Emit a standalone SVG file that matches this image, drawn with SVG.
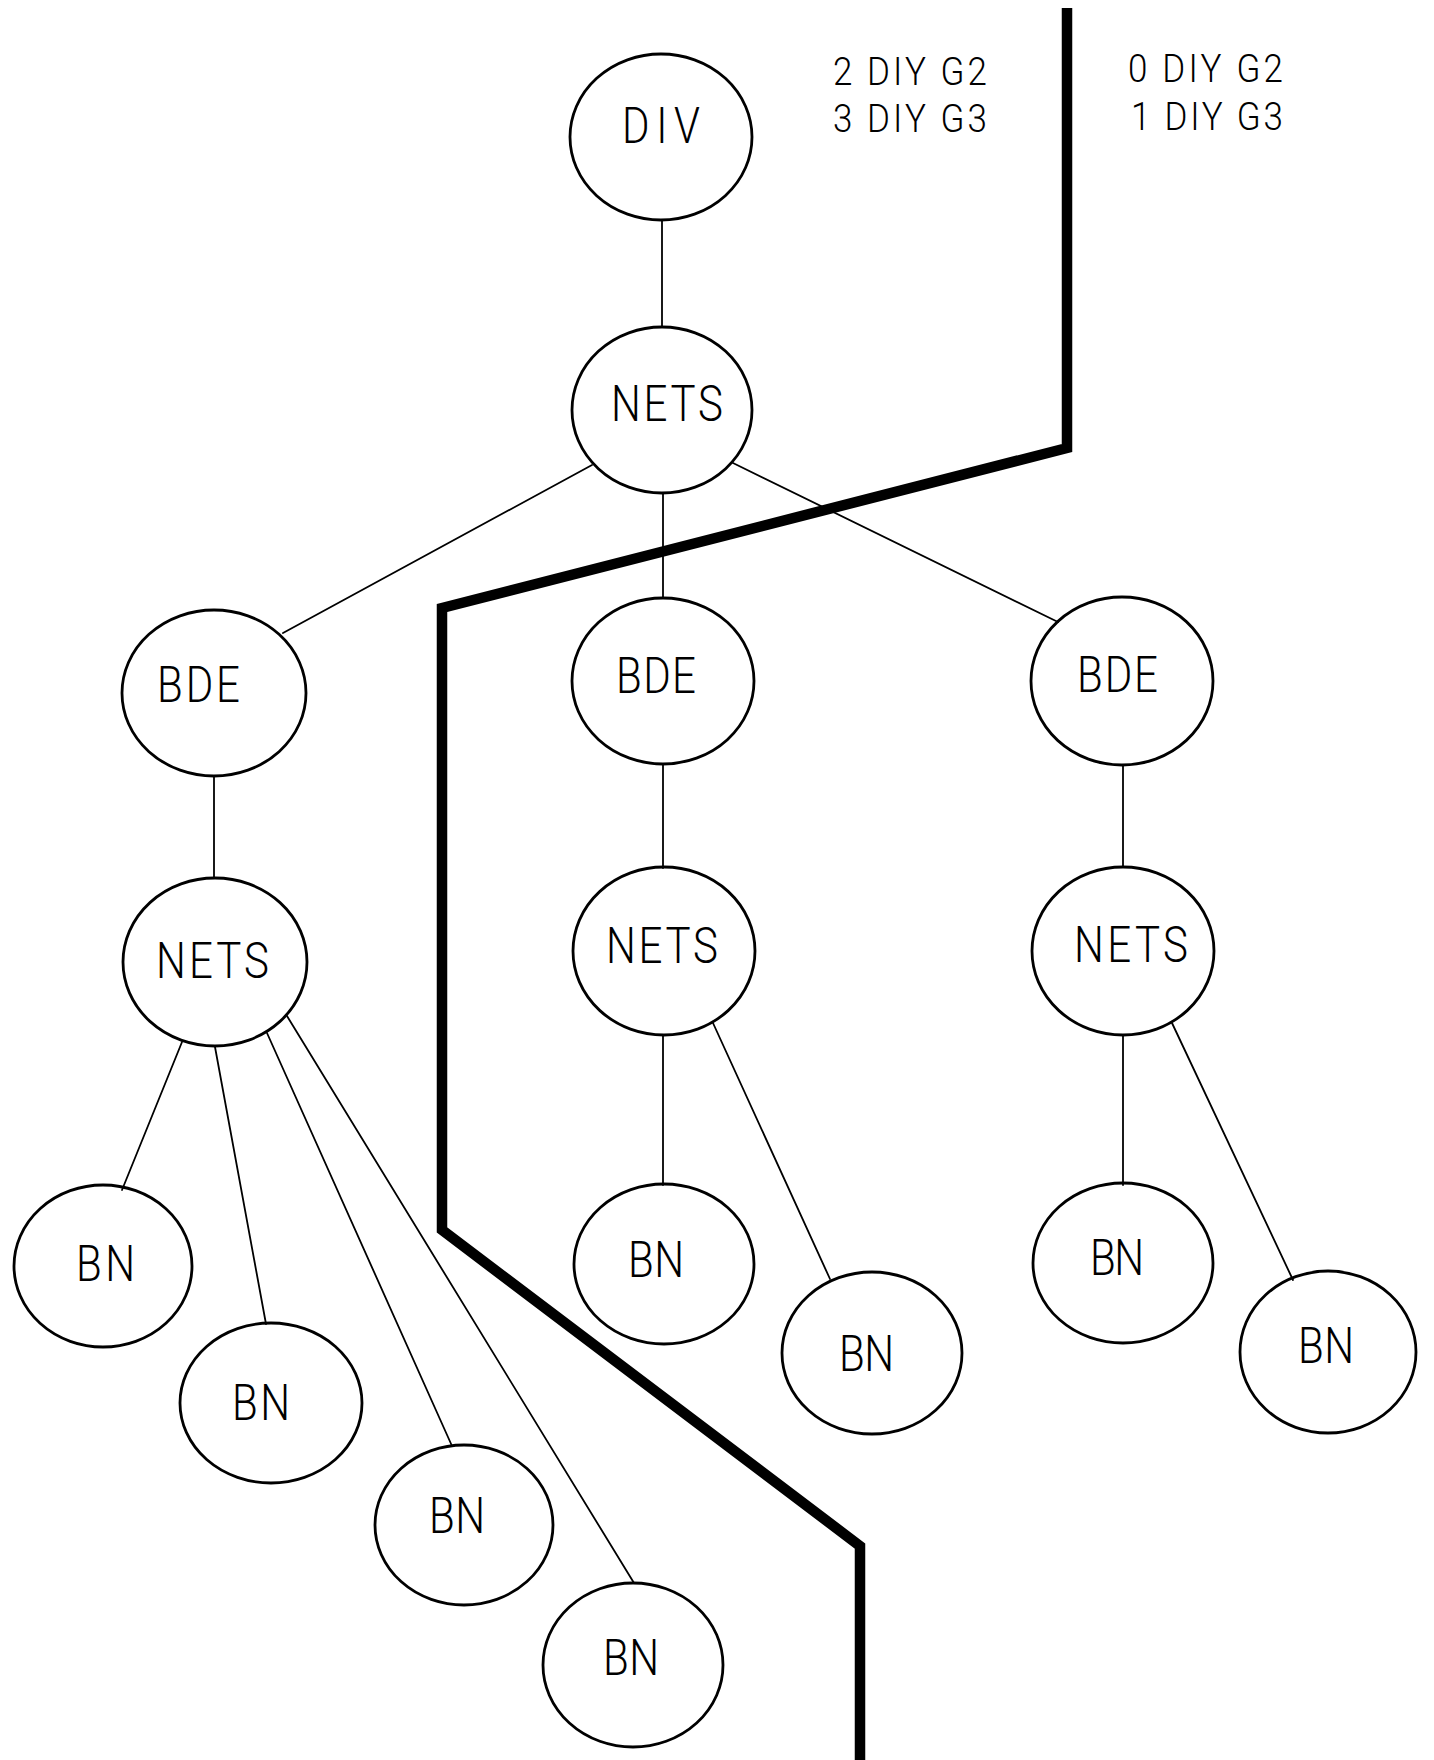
<svg xmlns="http://www.w3.org/2000/svg" width="1434" height="1760" viewBox="0 0 1434 1760">
  <style>
    .node ellipse { fill: none; stroke: #000; stroke-width: 2.8; }
    .node text { font-family: Roboto, "Liberation Sans", sans-serif; font-weight: 300; font-size: 42px; fill: #000; }
    .note { font-family: Roboto, "Liberation Sans", sans-serif; font-weight: 300; font-size: 35px; fill: #000; }
    #connectors line { stroke: #000; stroke-width: 1.8; stroke-linecap: round; }
    .boundary { fill: none; stroke: #000; stroke-width: 10.5; stroke-linejoin: miter; }
  </style>
  <rect width="1434" height="1760" fill="#fff"/>

  <!-- tree edges -->
  <g id="connectors">
    <line x1="662" y1="220" x2="662" y2="327"/>
    <line x1="592" y1="465" x2="283" y2="633"/>
    <line x1="663" y1="493" x2="663" y2="598"/>
    <line x1="733" y1="463" x2="1058" y2="622"/>
    <line x1="214" y1="777" x2="214" y2="878"/>
    <line x1="663" y1="765" x2="663" y2="868"/>
    <line x1="1123" y1="765" x2="1123" y2="867"/>
    <line x1="182" y1="1042" x2="122" y2="1190"/>
    <line x1="215" y1="1047" x2="266" y2="1324"/>
    <line x1="267" y1="1033" x2="452" y2="1446"/>
    <line x1="287" y1="1016" x2="634" y2="1583"/>
    <line x1="663" y1="1035" x2="663" y2="1185"/>
    <line x1="713" y1="1023" x2="830" y2="1279"/>
    <line x1="1123" y1="1035" x2="1123" y2="1185"/>
    <line x1="1172" y1="1023" x2="1293" y2="1280"/>
  </g>

  <!-- heavy dividing line -->
  <polyline class="boundary" points="1067,8 1067,448 442,608 442,1230 860,1546 860,1760"/>

  <!-- counts on each side of the divide -->
  <g id="counts-left">
    <text class="note" transform="translate(833,85) scale(1,1.12)" textLength="154" lengthAdjust="spacing">2 DIY G2</text>
    <text class="note" transform="translate(833,132) scale(1,1.12)" textLength="154" lengthAdjust="spacing">3 DIY G3</text>
  </g>
  <g id="counts-right">
    <text class="note" transform="translate(1128,82) scale(1,1.12)" textLength="155" lengthAdjust="spacing">0 DIY G2</text>
    <text class="note" transform="translate(1131,130) scale(1,1.12)" textLength="152" lengthAdjust="spacing">1 DIY G3</text>
  </g>

  <!-- nodes -->
  <g id="div" class="node">
    <ellipse cx="661" cy="137" rx="91" ry="83"/>
    <text transform="translate(622,143) scale(1,1.21)" textLength="78" lengthAdjust="spacing">DIV</text>
  </g>
  <g id="nets-top" class="node">
    <ellipse cx="662" cy="410" rx="90" ry="83"/>
    <text transform="translate(611,421) scale(1,1.21)" textLength="112" lengthAdjust="spacing">NETS</text>
  </g>
  <g id="bde-left" class="node">
    <ellipse cx="214" cy="693" rx="92" ry="83"/>
    <text transform="translate(157,702) scale(1,1.21)" textLength="83" lengthAdjust="spacing">BDE</text>
  </g>
  <g id="bde-mid" class="node">
    <ellipse cx="663" cy="681" rx="91" ry="83"/>
    <text transform="translate(616,693) scale(1,1.21)" textLength="80" lengthAdjust="spacing">BDE</text>
  </g>
  <g id="bde-right" class="node">
    <ellipse cx="1122" cy="681" rx="91" ry="84"/>
    <text transform="translate(1077,692) scale(1,1.21)" textLength="81" lengthAdjust="spacing">BDE</text>
  </g>
  <g id="nets-left" class="node">
    <ellipse cx="215" cy="962" rx="92" ry="84"/>
    <text transform="translate(156,978) scale(1,1.21)" textLength="113" lengthAdjust="spacing">NETS</text>
  </g>
  <g id="nets-mid" class="node">
    <ellipse cx="664" cy="951" rx="91" ry="84"/>
    <text transform="translate(606,963) scale(1,1.21)" textLength="112" lengthAdjust="spacing">NETS</text>
  </g>
  <g id="nets-right" class="node">
    <ellipse cx="1123" cy="951" rx="91" ry="84"/>
    <text transform="translate(1074,962) scale(1,1.21)" textLength="114" lengthAdjust="spacing">NETS</text>
  </g>
  <g id="bn-left-1" class="node">
    <ellipse cx="103" cy="1266" rx="89" ry="81"/>
    <text transform="translate(76,1281) scale(1,1.21)" textLength="59" lengthAdjust="spacing">BN</text>
  </g>
  <g id="bn-left-2" class="node">
    <ellipse cx="271" cy="1403" rx="91" ry="80"/>
    <text transform="translate(232,1420) scale(1,1.21)" textLength="58" lengthAdjust="spacing">BN</text>
  </g>
  <g id="bn-left-3" class="node">
    <ellipse cx="464" cy="1525" rx="89" ry="80"/>
    <text transform="translate(429,1533) scale(1,1.21)" textLength="56" lengthAdjust="spacing">BN</text>
  </g>
  <g id="bn-left-4" class="node">
    <ellipse cx="633" cy="1665" rx="90" ry="82"/>
    <text transform="translate(603,1675) scale(1,1.21)" textLength="56" lengthAdjust="spacing">BN</text>
  </g>
  <g id="bn-mid-1" class="node">
    <ellipse cx="664" cy="1264" rx="90" ry="80"/>
    <text transform="translate(628,1277) scale(1,1.21)" textLength="56" lengthAdjust="spacing">BN</text>
  </g>
  <g id="bn-mid-2" class="node">
    <ellipse cx="872" cy="1353" rx="90" ry="81"/>
    <text transform="translate(839,1371) scale(1,1.21)" textLength="55" lengthAdjust="spacing">BN</text>
  </g>
  <g id="bn-right-1" class="node">
    <ellipse cx="1123" cy="1263" rx="90" ry="80"/>
    <text transform="translate(1090,1275) scale(1,1.21)" textLength="54" lengthAdjust="spacing">BN</text>
  </g>
  <g id="bn-right-2" class="node">
    <ellipse cx="1328" cy="1352" rx="88" ry="81"/>
    <text transform="translate(1298,1363) scale(1,1.21)" textLength="56" lengthAdjust="spacing">BN</text>
  </g>
</svg>
